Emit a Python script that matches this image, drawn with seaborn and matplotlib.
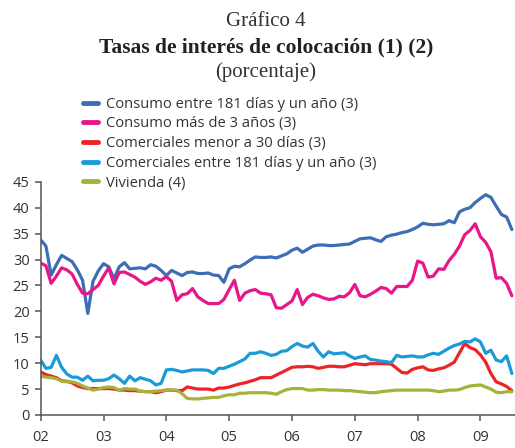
import numpy as np
import pandas as pd
import matplotlib
matplotlib.use("Agg")
import matplotlib.pyplot as plt
from matplotlib.lines import Line2D
import seaborn as sns

# monthly data, Jan 2002 - Jul 2009
consumo_181 = [33.8, 32.6, 27.0, 29.0, 30.8, 30.2, 29.6, 28.0, 26.0, 19.6, 25.8, 27.8,
               29.2, 28.6, 26.3, 28.6, 29.4, 28.2, 28.3, 28.4, 28.2, 29.0, 28.7, 27.9,
               26.9, 27.9, 27.4, 26.9, 27.5, 27.6, 27.3, 27.3, 27.4, 27.0, 26.9, 25.6,
               28.2, 28.7, 28.6, 29.2, 29.9, 30.5, 30.4, 30.4, 30.5, 30.3, 30.7, 31.1,
               31.8, 32.2, 31.4, 32.0, 32.6, 32.8, 32.8, 32.7, 32.7, 32.8, 32.9, 33.0,
               33.5, 34.0, 34.1, 34.2, 33.8, 33.5, 34.4, 34.7, 34.9, 35.2, 35.4, 35.8,
               36.3, 37.0, 36.8, 36.7, 36.8, 36.9, 37.5, 37.1, 39.2, 39.7, 40.0, 41.0,
               41.8, 42.5, 42.0, 40.3, 38.7, 38.2, 35.8]
consumo_3a = [29.3, 28.8, 25.4, 26.8, 28.4, 28.0, 27.2, 25.2, 23.5, 23.4, 24.2, 25.0,
              26.8, 28.4, 25.3, 27.5, 27.6, 27.1, 26.6, 25.8, 25.2, 25.7, 26.4, 26.0,
              26.7, 25.8, 22.1, 23.2, 23.4, 24.4, 22.8, 22.1, 21.5, 21.5, 21.5, 22.3,
              24.2, 26.0, 22.1, 23.5, 24.0, 24.2, 23.5, 23.4, 23.2, 20.7, 20.6, 21.3,
              22.0, 24.2, 21.3, 22.7, 23.3, 23.0, 22.6, 22.3, 22.4, 22.9, 22.8, 23.6,
              25.2, 23.0, 22.8, 23.3, 23.9, 24.6, 24.4, 23.5, 24.8, 24.8, 24.8, 26.0,
              29.7, 29.3, 26.6, 26.8, 28.2, 28.1, 29.8, 31.0, 32.6, 34.8, 35.6, 36.9,
              34.4, 33.3, 31.5, 26.4, 26.5, 25.4, 23.0]
comerc_30 = [8.3, 7.8, 7.5, 7.2, 6.6, 6.5, 6.2, 5.6, 5.3, 5.1, 5.1, 5.1,
             5.1, 5.1, 5.0, 4.8, 4.8, 4.7, 4.7, 4.6, 4.5, 4.5, 4.3, 4.5,
             4.8, 4.8, 4.7, 4.7, 5.4, 5.2, 5.0, 5.0, 5.0, 4.8, 5.2, 5.2,
             5.4, 5.7, 6.0, 6.2, 6.5, 6.8, 7.2, 7.2, 7.2, 7.7, 8.2, 8.7,
             9.2, 9.3, 9.3, 9.4, 9.3, 9.0, 9.2, 9.4, 9.4, 9.3, 9.3, 9.6,
             9.9, 9.8, 9.7, 9.9, 9.9, 9.9, 9.9, 9.8, 9.0, 8.2, 8.1, 8.8,
             9.1, 9.3, 8.7, 8.6, 8.9, 9.1, 9.6, 10.2, 12.0, 13.8, 13.0, 12.6,
             11.6, 10.2, 8.0, 6.4, 6.0, 5.5, 4.7]
comerc_181 = [10.6, 9.0, 9.2, 11.5, 9.2, 7.9, 7.3, 7.3, 6.7, 7.5, 6.6, 6.7,
              6.7, 7.0, 7.7, 7.0, 6.1, 7.5, 6.6, 7.2, 6.9, 6.6, 5.8, 6.1,
              8.7, 8.8, 8.6, 8.3, 8.5, 8.7, 8.7, 8.7, 8.6, 8.0, 9.0, 9.0,
              9.4, 9.8, 10.3, 10.8, 11.9, 11.9, 12.2, 11.9, 11.5, 11.7, 12.3, 12.4,
              13.2, 13.8, 13.3, 13.1, 13.8, 12.3, 11.2, 12.2, 11.8, 11.9, 12.0, 11.4,
              10.9, 11.2, 11.4, 10.7, 10.6, 10.4, 10.3, 10.1, 11.5, 11.2, 11.3, 11.4,
              11.2, 11.2, 11.6, 11.9, 11.7, 12.3, 12.9, 13.4, 13.7, 14.2, 14.1, 14.7,
              14.1, 11.9, 12.5, 10.6, 10.3, 11.4, 8.0]
vivienda = [7.5, 7.3, 7.2, 7.0, 6.5, 6.4, 6.4, 6.1, 5.6, 5.2, 4.8, 5.0,
            5.3, 5.4, 5.3, 4.7, 5.1, 5.0, 5.0, 4.6, 4.5, 4.5, 4.6, 4.7,
            4.8, 4.8, 4.8, 4.1, 3.2, 3.1, 3.1, 3.2, 3.3, 3.4, 3.4, 3.7,
            3.9, 3.9, 4.2, 4.2, 4.3, 4.3, 4.3, 4.3, 4.2, 4.0, 4.5, 4.9,
            5.1, 5.1, 5.1, 4.8, 4.8, 4.9, 4.9, 4.8, 4.8, 4.8, 4.7, 4.7,
            4.6, 4.5, 4.4, 4.3, 4.3, 4.5, 4.6, 4.7, 4.8, 4.8, 4.8, 4.8,
            4.8, 4.8, 4.8, 4.7, 4.5, 4.6, 4.8, 4.8, 4.9, 5.3, 5.6, 5.7,
            5.8, 5.4, 5.0, 4.4, 4.3, 4.5, 4.5]

series_names = ["Consumo entre 181 días y un año (3)",
                "Consumo más de 3 años (3)",
                "Comerciales menor a 30 días (3)",
                "Comerciales entre 181 días y un año (3)",
                "Vivienda (4)"]
colors = ["#3d6db5", "#e8168a", "#ec2327", "#1a9bd7", "#a6b23a"]
year_labels = ["02", "03", "04", "05", "06", "07", "08", "09"]

n = len(consumo_181)
fecha = 2002 + np.arange(n) / 12.0
rows = []
for name, vals in zip(series_names, [consumo_181, consumo_3a, comerc_30, comerc_181, vivienda]):
    rows.append(pd.DataFrame({"fecha": fecha, "tasa": vals, "serie": name}))
df = pd.concat(rows, ignore_index=True)

sns.set_theme(style="ticks")
plt.rcParams["font.family"] = ["Open Sans", "DejaVu Sans"]

fig = plt.figure(figsize=(5.15, 4.48), dpi=100)
ax = fig.add_axes([0.079, 0.0737, 0.921, 0.5205])

sns.lineplot(data=df, x="fecha", y="tasa", hue="serie", hue_order=series_names,
             palette=colors, linewidth=2.3, legend=False, ax=ax)

ax.set_xlim(2002, 2002 + 90.6 / 12)
ax.set_ylim(0, 45)
ax.set_xticks(np.arange(2002, 2010))
ax.set_xticklabels(year_labels)
ax.set_yticks(np.arange(0, 46, 5))
ax.set_xlabel("")
ax.set_ylabel("")
sns.despine(ax=ax, top=True, right=True)
for s in ["left", "bottom"]:
    ax.spines[s].set_color("#555555")
    ax.spines[s].set_linewidth(1.1)
ax.tick_params(axis="both", colors="#555555", labelcolor="#333333",
               labelsize=10.5, length=4, width=1.1)
ax.tick_params(axis="y", pad=4)
ax.tick_params(axis="x", pad=7)

fig.text(0.516, 0.953, "Gráfico 4", ha="center", va="center",
         family="Liberation Serif", fontsize=15, color="#333333")
fig.text(0.516, 0.895, "Tasas de interés de colocación (1) (2)", ha="center", va="center",
         family="Liberation Serif", fontsize=15.5, fontweight="bold", color="#222222")
fig.text(0.516, 0.838, "(porcentaje)", ha="center", va="center",
         family="Liberation Serif", fontsize=15, color="#333333")

handles = [Line2D([0], [0], color=c, lw=3.5) for c in colors]
fig.legend(handles, series_names, loc="upper left", bbox_to_anchor=(0.161, 0.784),
           frameon=False, fontsize=10.6, handlelength=1.0, handletextpad=0.6,
           labelspacing=0.32, borderaxespad=0, borderpad=0, labelcolor="#333333")

fig.savefig("out.png", dpi=100)
